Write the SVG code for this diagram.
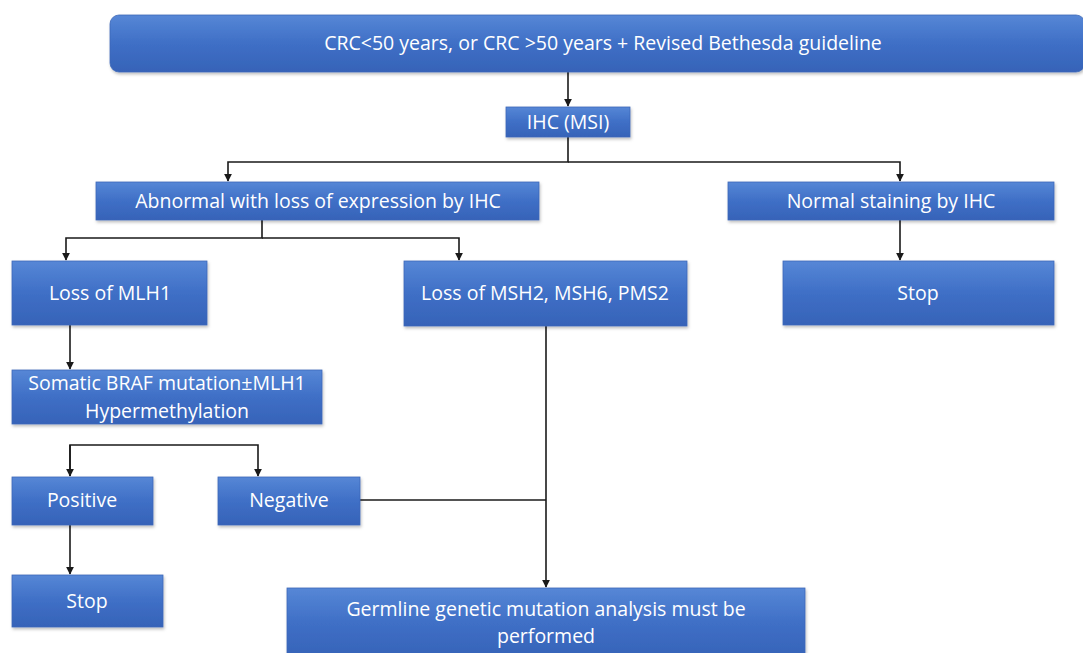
<svg xmlns="http://www.w3.org/2000/svg" width="1083" height="653" viewBox="0 0 1083 653">
<style>
.box{fill:url(#g);stroke:#3d68b8;stroke-width:0.8;filter:url(#sh)}
.t{font-family:"Open Sans","Liberation Sans",Arial,sans-serif;font-size:19.5px;fill:#ffffff;text-anchor:middle}
.c{fill:none;stroke:#1a1a1a;stroke-width:1.6}
</style>
<defs>
<linearGradient id="g" x1="0" y1="0" x2="0" y2="1">
<stop offset="0" stop-color="#5687d6"/>
<stop offset="0.5" stop-color="#3f6fc6"/>
<stop offset="1" stop-color="#3663b8"/>
</linearGradient>
<filter id="sh" x="-5%" y="-10%" width="110%" height="130%">
<feDropShadow dx="1" dy="2" stdDeviation="1.5" flood-color="#000" flood-opacity="0.25"/>
</filter>
<marker id="a" viewBox="0 0 10 10" refX="9" refY="5" markerWidth="5" markerHeight="5" orient="auto">
<path d="M0,0 L10,5 L0,10 z" fill="#1a1a1a"/>
</marker>
</defs>
<rect width="1083" height="653" fill="#ffffff"/>
<g id="connectors">
<path class="c" d="M568,72 V106" marker-end="url(#a)"/>
<path class="c" d="M568,137 V162 H228 V181" marker-end="url(#a)"/>
<path class="c" d="M568,162 H900 V181" marker-end="url(#a)"/>
<path class="c" d="M262,220 V238 H66 V260" marker-end="url(#a)"/>
<path class="c" d="M262,238 H459 V260" marker-end="url(#a)"/>
<path class="c" d="M900,220 V260" marker-end="url(#a)"/>
<path class="c" d="M70,325 V369" marker-end="url(#a)"/>
<path class="c" d="M70,476 V445 H258 V476" marker-end="url(#a)"/>
<path class="c" d="M70,445 V476" marker-end="url(#a)"/>
<path class="c" d="M70,525 V574" marker-end="url(#a)"/>
<path class="c" d="M546,326 V587" marker-end="url(#a)"/>
<path class="c" d="M360,500 H546"/>
</g>
<g id="n-top">
<rect class="box" x="110" y="15" width="975" height="57" rx="9"/>
<text class="t" x="603" y="50">CRC&lt;50 years, or CRC &gt;50 years + Revised Bethesda guideline</text>
</g>
<g id="n-ihc">
<rect class="box" x="506" y="107" width="124" height="30"/>
<text class="t" x="568" y="129">IHC (MSI)</text>
</g>
<g id="n-abnormal">
<rect class="box" x="96" y="182" width="443" height="38"/>
<text class="t" x="318" y="208">Abnormal with loss of expression by IHC</text>
</g>
<g id="n-normal">
<rect class="box" x="728" y="182" width="326" height="38"/>
<text class="t" x="891" y="208">Normal staining by IHC</text>
</g>
<g id="n-mlh1">
<rect class="box" x="12" y="261" width="195" height="64"/>
<text class="t" x="110" y="300">Loss of MLH1</text>
</g>
<g id="n-msh2">
<rect class="box" x="404" y="261" width="283" height="65"/>
<text class="t" x="545" y="300">Loss of MSH2, MSH6, PMS2</text>
</g>
<g id="n-stop1">
<rect class="box" x="783" y="261" width="271" height="64"/>
<text class="t" x="918" y="300">Stop</text>
</g>
<g id="n-somatic">
<rect class="box" x="12" y="370" width="310" height="54"/>
<text class="t" x="167" y="390">Somatic BRAF mutation±MLH1</text>
<text class="t" x="167" y="418">Hypermethylation</text>
</g>
<g id="n-positive">
<rect class="box" x="12" y="477" width="141" height="48"/>
<text class="t" x="82" y="507">Positive</text>
</g>
<g id="n-negative">
<rect class="box" x="218" y="477" width="142" height="48"/>
<text class="t" x="289" y="507">Negative</text>
</g>
<g id="n-stop2">
<rect class="box" x="12" y="575" width="151" height="52"/>
<text class="t" x="87" y="608">Stop</text>
</g>
<g id="n-germline">
<rect class="box" x="287" y="588" width="518" height="70"/>
<text class="t" x="546" y="616">Germline genetic mutation analysis must be</text>
<text class="t" x="546" y="643">performed</text>
</g>
</svg>
